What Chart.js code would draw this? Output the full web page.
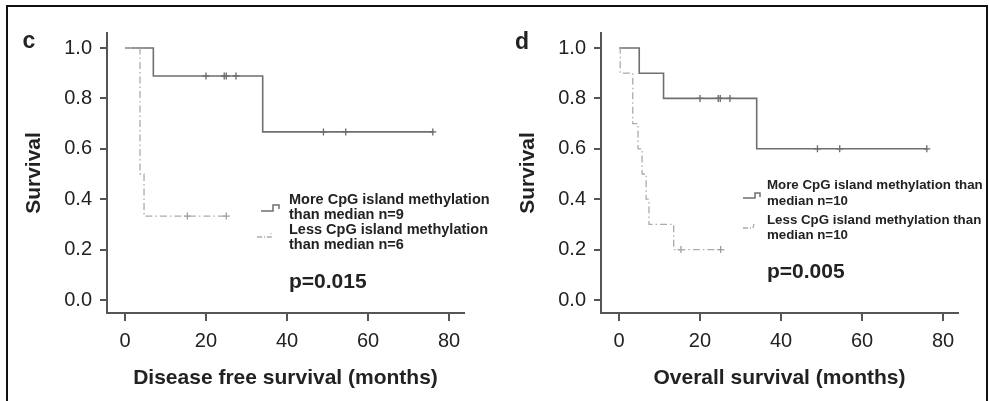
<!DOCTYPE html>
<html lang="en">
<head>
<meta charset="UTF-8" />
<title>Survival by CpG island methylation</title>
<script src="https://cdn.jsdelivr.net/npm/chart.js"></script>
<style>
  * { margin: 0; padding: 0; box-sizing: border-box; }
  body {
    width: 989px;
    height: 401px;
    background: #fff;
    overflow: hidden;
    position: relative;
    font-family: "Liberation Sans", Arial, sans-serif;
  }
  .frame {
    position: absolute;
    left: 6px;
    top: 5px;
    width: 982px;
    height: 400px;
    border: 2px solid #111;
    border-bottom: none;
  }
  .panel { position: absolute; top: 0; width: 494px; height: 401px; }
  #panelC { left: 0; }
  #panelD { left: 494px; }
</style>
</head>
<body>
<div class="frame"></div>
<div class="panel" id="panelC"><canvas id="chartC"></canvas></div>
<div class="panel" id="panelD"><canvas id="chartD"></canvas></div>

<script>
// shared axes
const xTicks = [0, 20, 40, 60, 80];
const yTicks = [0, 0.2, 0.4, 0.6, 0.8, 1.0];

// c: disease free survival
const dfsMoreTimes = [0, 7, 34, 76];
const dfsMoreSurv = [1.0, 0.889, 0.667, 0.667];
const dfsMoreCensored = [20, 24.5, 25, 27.4, 49, 54.5, 76];
const dfsLessTimes = [0, 3.7, 4.7, 25.3];
const dfsLessSurv = [1.0, 0.5, 0.333, 0.333];
const dfsLessCensored = [15.4, 25];

// d: overall survival
const osMoreTimes = [0, 5, 11, 34, 76];
const osMoreSurv = [1.0, 0.9, 0.8, 0.6, 0.6];
const osMoreCensored = [20, 24.5, 25, 27.4, 49, 54.5, 76];
const osLessTimes = [0, 0.3, 3.4, 4.7, 5.7, 6.7, 7.4, 13.5, 26];
const osLessSurv = [1.0, 0.9, 0.7, 0.6, 0.5, 0.4, 0.3, 0.2, 0.2];
const osLessCensored = [15.3, 25.1];

const SOLID = "#6f6f6f";
const DASHED = "#acacac";
const AXIS = "#555";
const TEXT = "#222";
const FONT = '"Liberation Sans", Arial, sans-serif';

// survival value of a step curve at time t
function survAt(times, surv, t) {
  let s = surv[0];
  for (let i = 0; i < times.length; i++) {
    if (times[i] <= t) s = surv[i];
  }
  return s;
}

function curve(times, surv) {
  return times.map((t, i) => ({ x: t, y: surv[i] }));
}

function marks(times, surv, censored) {
  return censored.map(t => ({ x: t, y: survAt(times, surv, t) }));
}

// panel letter, legend and p value drawn over the plot
const notesPlugin = {
  id: "kmNotes",
  afterDraw(chart, args, opts) {
    const ctx = chart.ctx;
    ctx.save();
    ctx.fillStyle = TEXT;
    ctx.textBaseline = "middle";
    ctx.textAlign = "center";
    ctx.font = "bold 23px " + FONT;
    ctx.fillText(opts.letter, opts.letterX, opts.letterY);

    ctx.textAlign = "left";
    ctx.font = "bold " + opts.legendSize + "px " + FONT;
    opts.legendLines.forEach((l) => ctx.fillText(l.text, opts.textX, l.y));
    ctx.font = "bold 21px " + FONT;
    ctx.fillText(opts.p, opts.textX, opts.pY);

    // step-shaped legend keys
    ctx.lineWidth = 1.5;
    ctx.strokeStyle = SOLID;
    ctx.beginPath();
    opts.keySolid.forEach(([x, y], i) => (i ? ctx.lineTo(x, y) : ctx.moveTo(x, y)));
    ctx.stroke();
    ctx.strokeStyle = DASHED;
    ctx.lineWidth = 1.3;
    ctx.setLineDash([5, 2, 1, 2]);
    ctx.beginPath();
    opts.keyDashed.forEach(([x, y], i) => (i ? ctx.lineTo(x, y) : ctx.moveTo(x, y)));
    ctx.stroke();
    ctx.restore();
  },
};

function makeChart(id, cfg) {
  const ctx = document.getElementById(id).getContext("2d");
  return new Chart(ctx, {
    type: "line",
    data: {
      datasets: [
        {
          data: curve(cfg.lessTimes, cfg.lessSurv),
          stepped: "before",
          borderColor: DASHED,
          borderWidth: 1.3,
          borderDash: [7, 3, 1.5, 3],
          pointRadius: 0,
        },
        {
          data: marks(cfg.lessTimes, cfg.lessSurv, cfg.lessCensored),
          showLine: false,
          pointStyle: "cross",
          pointRadius: 3.5,
          pointBorderWidth: 1.2,
          pointBorderColor: "#999",
        },
        {
          data: curve(cfg.moreTimes, cfg.moreSurv),
          stepped: "before",
          borderColor: SOLID,
          borderWidth: 1.6,
          pointRadius: 0,
        },
        {
          data: marks(cfg.moreTimes, cfg.moreSurv, cfg.moreCensored),
          showLine: false,
          pointStyle: "cross",
          pointRadius: 3.5,
          pointBorderWidth: 1.3,
          pointBorderColor: "#666",
        },
      ],
    },
    options: {
      responsive: true,
      maintainAspectRatio: false,
      animation: false,
      layout: { padding: { left: 0, top: 33, right: 30, bottom: 0 } },
      plugins: {
        legend: { display: false },
        tooltip: { enabled: false },
        kmNotes: cfg.notes,
      },
      scales: {
        x: {
          type: "linear",
          min: -4.44,
          max: 83.7,
          afterFit: (s) => { s.height = 88; },
          afterBuildTicks: (s) => { s.ticks = xTicks.map((v) => ({ value: v })); },
          border: { display: true, color: AXIS, width: 2 },
          grid: { display: true, drawOnChartArea: false, drawTicks: true, tickLength: 8, color: AXIS, lineWidth: 2 },
          ticks: { color: TEXT, padding: 8, maxRotation: 0, font: { family: FONT, size: 20 } },
          title: {
            display: true,
            text: cfg.xTitle,
            color: TEXT,
            padding: { bottom: 10 },
            font: { family: FONT, size: 21, weight: "bold" },
          },
        },
        y: {
          min: -0.0516,
          max: 1.0595,
          afterFit: (s) => { s.width = 107; },
          afterBuildTicks: (s) => { s.ticks = yTicks.map((v) => ({ value: v })); },
          border: { display: true, color: AXIS, width: 2 },
          grid: { display: true, drawOnChartArea: false, drawTicks: true, tickLength: 7, color: AXIS, lineWidth: 2 },
          ticks: {
            color: TEXT,
            padding: 8,
            font: { family: FONT, size: 20 },
            callback: (v) => Number(v).toFixed(1),
          },
          title: {
            display: true,
            text: "Survival",
            color: TEXT,
            padding: { top: 22 },
            font: { family: FONT, size: 21, weight: "bold" },
          },
        },
      },
    },
    plugins: [notesPlugin],
  });
}

makeChart("chartC", {
  moreTimes: dfsMoreTimes, moreSurv: dfsMoreSurv, moreCensored: dfsMoreCensored,
  lessTimes: dfsLessTimes, lessSurv: dfsLessSurv, lessCensored: dfsLessCensored,
  xTitle: "Disease free survival (months)",
  notes: {
    letter: "c", letterX: 29, letterY: 42,
    textX: 289, legendSize: 14.5,
    legendLines: [
      { text: "More CpG island methylation", y: 200 },
      { text: "than median n=9", y: 215 },
      { text: "Less CpG island methylation", y: 230 },
      { text: "than median n=6", y: 245 },
    ],
    p: "p=0.015", pY: 282,
    keySolid: [[261, 211], [273, 211], [273, 205], [279, 205], [279, 209]],
    keyDashed: [[257, 237], [271, 237], [271, 232]],
  },
});

makeChart("chartD", {
  moreTimes: osMoreTimes, moreSurv: osMoreSurv, moreCensored: osMoreCensored,
  lessTimes: osLessTimes, lessSurv: osLessSurv, lessCensored: osLessCensored,
  xTitle: "Overall survival (months)",
  notes: {
    letter: "d", letterX: 28, letterY: 43,
    textX: 273, legendSize: 13.3,
    legendLines: [
      { text: "More CpG island methylation than", y: 185 },
      { text: "median n=10", y: 201 },
      { text: "Less CpG island methylation than", y: 220 },
      { text: "median n=10", y: 235 },
    ],
    p: "p=0.005", pY: 272,
    keySolid: [[249, 198], [261, 198], [261, 193], [266, 193], [266, 197]],
    keyDashed: [[249, 228], [259, 228], [260, 224]],
  },
});
</script>
</body>
</html>
